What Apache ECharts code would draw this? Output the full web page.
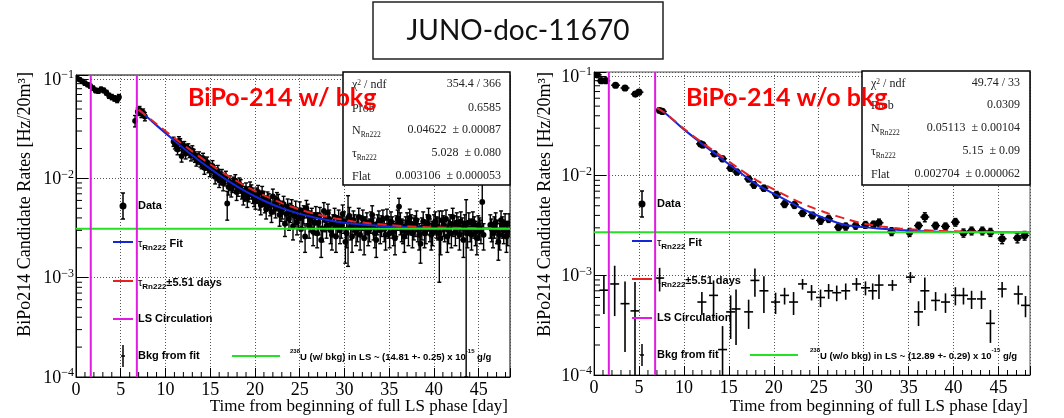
<!DOCTYPE html>
<html>
<head>
<meta charset="utf-8">
<script src="https://cdn.jsdelivr.net/npm/echarts@6.0.0/dist/echarts.min.js"></script>
<style>
  html, body { margin: 0; padding: 0; background: #fff; }
  #chart { width: 1064px; height: 418px; }
</style>
</head>
<body>
<div id="chart"></div>
<script>
// values: [day, rate, error]
const leftData = [
  [0.1, 0.103, 0.004], [0.4, 0.099, 0.004], [0.7, 0.095, 0.004], [1.0, 0.091, 0.004],
  [1.3, 0.088, 0.004], [1.6, 0.085, 0.004], [1.9, 0.081, 0.004], [2.2, 0.077, 0.004],
  [2.5, 0.076, 0.004], [2.8, 0.079, 0.004], [3.1, 0.077, 0.004], [3.4, 0.073, 0.004],
  [3.7, 0.068, 0.004], [4.0, 0.066, 0.004], [4.3, 0.064, 0.004], [4.6, 0.062, 0.004],
  [4.8, 0.066, 0.004], [6.6, 0.038, 0.005], [6.9, 0.047, 0.004], [7.1, 0.049, 0.004],
  [7.3, 0.045, 0.004], [7.5, 0.046, 0.004], [7.7, 0.042, 0.004],
  [10.9, 0.0235, 0.0025], [11.2, 0.0215, 0.0024], [11.5, 0.0238, 0.0025], [11.8, 0.0168, 0.0022],
  [12.1, 0.0212, 0.0023], [12.4, 0.0196, 0.0022], [12.7, 0.0183, 0.0021], [13.0, 0.0192, 0.0021],
  [13.3, 0.0165, 0.002], [13.6, 0.0158, 0.0019], [13.9, 0.0149, 0.0019], [14.2, 0.0160, 0.0019],
  [14.5, 0.0139, 0.0018], [14.8, 0.0131, 0.0017], [15.1, 0.0125, 0.0017], [15.4, 0.0118, 0.0016],
  [15.7, 0.0112, 0.0016], [16.0, 0.0096, 0.0015], [16.3, 0.0108, 0.0015], [16.6, 0.0098, 0.0014],
  [16.9, 0.0056, 0.0018], [17.2, 0.0092, 0.0014], [17.5, 0.0086, 0.0014], [17.8, 0.0095, 0.0014],
  [18.1, 0.0079, 0.0013], [18.4, 0.0084, 0.0013], [18.7, 0.0066, 0.0012], [19.0, 0.0077, 0.0013],
  [19.3, 0.0070, 0.0012], [19.6, 0.0074, 0.0012], [19.9, 0.0064, 0.0012], [20.2, 0.0068, 0.0012],
  [20.5, 0.0059, 0.0011], [20.8, 0.0071, 0.0012], [21.1, 0.0056, 0.0011], [21.4, 0.0062, 0.0011],
  [21.7, 0.0053, 0.0011], [22.0, 0.0066, 0.0012], [22.3, 0.0050, 0.0010], [22.6, 0.0058, 0.0011],
  [22.9, 0.0047, 0.0010], [23.2, 0.0055, 0.0011], [23.5, 0.0044, 0.0010], [23.8, 0.0039, 0.0009],
  [24.1, 0.0051, 0.0010], [24.4, 0.0042, 0.0009], [24.7, 0.0036, 0.0009], [25.0, 0.0048, 0.0010],
  [25.3, 0.0041, 0.0009], [25.6, 0.0026, 0.0008], [25.9, 0.0045, 0.0010], [26.2, 0.0038, 0.0009],
  [26.5, 0.0029, 0.0008], [26.8, 0.0043, 0.0009], [27.1, 0.0036, 0.0009], [27.4, 0.0024, 0.0008],
  [27.7, 0.0047, 0.0010], [28.0, 0.0033, 0.0008], [28.3, 0.0039, 0.0009], [28.6, 0.0027, 0.0008],
  [28.9, 0.0041, 0.0009], [29.2, 0.0034, 0.0008], [29.5, 0.0030, 0.0008], [29.8, 0.0044, 0.0010],
  [30.1, 0.0023, 0.0009], [30.4, 0.0040, 0.0027], [30.7, 0.0032, 0.0008], [31.0, 0.0038, 0.0009],
  [31.3, 0.0029, 0.0008], [31.6, 0.0041, 0.0009], [31.9, 0.0034, 0.0008], [32.2, 0.0025, 0.0008],
  [32.5, 0.0036, 0.0009], [32.8, 0.0031, 0.0008], [33.1, 0.0043, 0.0010], [33.4, 0.0028, 0.0008],
  [33.7, 0.0035, 0.0008], [34.0, 0.0030, 0.0008], [34.3, 0.0039, 0.0009], [34.6, 0.0027, 0.0008],
  [34.9, 0.0033, 0.0008], [35.2, 0.0037, 0.0009], [35.5, 0.0029, 0.0008], [35.8, 0.0034, 0.0008],
  [36.1, 0.0052, 0.0011], [36.4, 0.0031, 0.0008], [36.7, 0.0026, 0.0008], [37.0, 0.0036, 0.0009],
  [37.3, 0.0040, 0.0009], [37.6, 0.0028, 0.0008], [37.9, 0.0034, 0.0008], [38.2, 0.0031, 0.0008],
  [38.5, 0.0022, 0.0008], [38.8, 0.0037, 0.0009], [39.1, 0.0030, 0.0008], [39.4, 0.0041, 0.0009],
  [39.7, 0.0027, 0.0008], [40.0, 0.0035, 0.0008], [40.3, 0.0033, 0.0008], [40.6, 0.0028, 0.0019],
  [40.9, 0.0038, 0.0009], [41.2, 0.0031, 0.0008], [41.5, 0.0026, 0.0008], [41.8, 0.0035, 0.0008],
  [42.1, 0.0041, 0.0009], [42.4, 0.0029, 0.0008], [42.7, 0.0033, 0.0008], [43.0, 0.0037, 0.0009],
  [43.3, 0.0024, 0.0008], [43.6, 0.0031, 0.0030], [43.9, 0.0036, 0.0009], [44.2, 0.0027, 0.0008],
  [44.5, 0.0033, 0.0008], [44.8, 0.0025, 0.0008], [45.1, 0.0032, 0.0008], [45.4, 0.0058, 0.0030],
  [46.3, 0.0034, 0.0009], [46.6, 0.0028, 0.0008], [46.9, 0.0036, 0.0009], [47.2, 0.0023, 0.0008],
  [47.5, 0.0038, 0.0009], [47.8, 0.0030, 0.0008], [48.1, 0.0026, 0.0008], [48.4, 0.0035, 0.0009]
];
// the bins in between, same plot
const leftData2 = [
  [11.05, 0.0222, 0.0024], [11.35, 0.0196, 0.0023], [11.65, 0.0227, 0.0024], [11.95, 0.0204, 0.0023],
  [12.25, 0.0178, 0.0021], [12.55, 0.0201, 0.0022], [12.85, 0.0171, 0.0021], [13.15, 0.0176, 0.002],
  [13.45, 0.0152, 0.0019], [13.75, 0.0166, 0.0019], [14.05, 0.0143, 0.0018], [14.35, 0.0128, 0.0018],
  [14.65, 0.0146, 0.0018], [14.95, 0.0121, 0.0017], [15.25, 0.0134, 0.0017], [15.55, 0.0104, 0.0016],
  [15.85, 0.0119, 0.0016], [16.15, 0.0101, 0.0015], [16.45, 0.0090, 0.0015], [16.75, 0.0103, 0.0015],
  [17.05, 0.0082, 0.0014], [17.35, 0.0079, 0.0014], [17.65, 0.0089, 0.0014], [17.95, 0.0073, 0.0013],
  [18.25, 0.0088, 0.0013], [18.55, 0.0075, 0.0013], [18.85, 0.0071, 0.0012], [19.15, 0.0063, 0.0012],
  [19.45, 0.0079, 0.0013], [19.75, 0.0068, 0.0012], [20.05, 0.0060, 0.0011], [20.35, 0.0073, 0.0012],
  [20.65, 0.0054, 0.0011], [20.95, 0.0063, 0.0011], [21.25, 0.0049, 0.0010], [21.55, 0.0059, 0.0011],
  [21.85, 0.0046, 0.0010], [22.15, 0.0055, 0.0011], [22.45, 0.0061, 0.0011], [22.75, 0.0043, 0.0010],
  [23.05, 0.0049, 0.0010], [23.35, 0.0035, 0.0009], [23.65, 0.0052, 0.0010], [23.95, 0.0046, 0.0010],
  [24.25, 0.0033, 0.0009], [24.55, 0.0049, 0.0010], [24.85, 0.0040, 0.0009], [25.15, 0.0031, 0.0008],
  [25.45, 0.0044, 0.0009], [25.75, 0.0050, 0.0010], [26.05, 0.0033, 0.0008], [26.35, 0.0041, 0.0009],
  [26.65, 0.0036, 0.0009], [26.95, 0.0028, 0.0008], [27.25, 0.0042, 0.0009], [27.55, 0.0031, 0.0008],
  [27.85, 0.0038, 0.0009], [28.15, 0.0045, 0.0010], [28.45, 0.0030, 0.0008], [28.75, 0.0035, 0.0008],
  [29.05, 0.0026, 0.0008], [29.35, 0.0039, 0.0009], [29.65, 0.0033, 0.0008], [29.95, 0.0037, 0.0009],
  [30.25, 0.0028, 0.0008], [30.55, 0.0042, 0.0009], [30.85, 0.0026, 0.0008], [31.15, 0.0035, 0.0008],
  [31.45, 0.0031, 0.0008], [31.75, 0.0027, 0.0008], [32.05, 0.0039, 0.0009], [32.35, 0.0033, 0.0008],
  [32.65, 0.0029, 0.0008], [32.95, 0.0037, 0.0009], [33.25, 0.0032, 0.0008], [33.55, 0.0024, 0.0008],
  [33.85, 0.0038, 0.0009], [34.15, 0.0034, 0.0008], [34.45, 0.0031, 0.0008], [34.75, 0.0040, 0.0009],
  [35.05, 0.0028, 0.0008], [35.35, 0.0033, 0.0008], [35.65, 0.0025, 0.0008], [35.95, 0.0039, 0.0009],
  [36.25, 0.0036, 0.0009], [36.55, 0.0030, 0.0008], [36.85, 0.0033, 0.0008], [37.15, 0.0029, 0.0008],
  [37.45, 0.0035, 0.0008], [37.75, 0.0032, 0.0008], [38.05, 0.0038, 0.0009], [38.35, 0.0027, 0.0008],
  [38.65, 0.0032, 0.0008], [38.95, 0.0028, 0.0008], [39.25, 0.0035, 0.0008], [39.55, 0.0031, 0.0008],
  [39.85, 0.0029, 0.0008], [40.15, 0.0037, 0.0009], [40.45, 0.0032, 0.0008], [40.75, 0.0025, 0.0008],
  [41.05, 0.0034, 0.0008], [41.35, 0.0039, 0.0009], [41.65, 0.0030, 0.0008], [41.95, 0.0028, 0.0008],
  [42.25, 0.0034, 0.0008], [42.55, 0.0036, 0.0009], [42.85, 0.0027, 0.0008], [43.15, 0.0032, 0.0008],
  [43.45, 0.0035, 0.0008], [43.75, 0.0028, 0.0008], [44.05, 0.0031, 0.0008], [44.35, 0.0037, 0.0009],
  [44.65, 0.0029, 0.0008], [44.95, 0.0034, 0.0008], [45.25, 0.0030, 0.0008], [45.55, 0.0027, 0.0008],
  [46.45, 0.0031, 0.0008], [46.75, 0.0033, 0.0008], [47.05, 0.0030, 0.0008], [47.35, 0.0027, 0.0008],
  [47.65, 0.0033, 0.0008], [47.95, 0.0035, 0.0009], [48.25, 0.0029, 0.0008]
];

const rightData = [
  [0.35, 0.103, 0.003], [0.8, 0.090, 0.003], [1.3, 0.090, 0.003], [2.4, 0.081, 0.003],
  [3.45, 0.076, 0.003], [4.6, 0.066, 0.003], [5.0, 0.069, 0.003],
  [7.3, 0.0452, 0.002], [7.6, 0.0442, 0.002], [11.85, 0.0209, 0.0012], [12.1, 0.0204, 0.0012],
  [13.4, 0.0166, 0.001], [14.3, 0.0148, 0.0009], [15.2, 0.0119, 0.0008], [15.9, 0.0109, 0.0007],
  [17.2, 0.0093, 0.0006], [17.8, 0.0081, 0.0006], [18.9, 0.0075, 0.0005], [20.3, 0.00645, 0.0005],
  [21.2, 0.0052, 0.0004], [22.3, 0.0051, 0.0004], [23.2, 0.0042, 0.0003], [24.3, 0.0040, 0.0003],
  [25.2, 0.00356, 0.0003], [26.1, 0.0037, 0.0003], [27.2, 0.00305, 0.00025], [28.0, 0.0031, 0.00025],
  [29.1, 0.00316, 0.00025], [30.2, 0.00322, 0.00025], [31.1, 0.00325, 0.00025], [31.7, 0.00337, 0.0003],
  [33.1, 0.00276, 0.00025], [35.1, 0.00271, 0.00025], [36.1, 0.00316, 0.00025], [36.8, 0.00385, 0.0004],
  [38.0, 0.00316, 0.00025], [39.1, 0.0031, 0.00025], [40.2, 0.00342, 0.0003], [41.1, 0.00267, 0.00025],
  [42.0, 0.0028, 0.00025], [43.2, 0.0028, 0.00025], [44.1, 0.00271, 0.00025], [45.4, 0.00233, 0.00025],
  [47.1, 0.00237, 0.00025], [47.9, 0.00251, 0.00025]
];

const rightBkg = [
  [1.1, 0.00071, 0.0003], [2.3, 0.00082, 0.00043], [3.45, 0.00052, 0.00035], [4.56, 0.00044, 0.00042],
  [7.3, 0.00094, 0.00025], [12.0, 0.00054, 0.00014], [13.3, 0.00063, 0.00026], [14.3, 0.00018, 0.00013],
  [15.2, 0.00043, 0.0002], [15.8, 0.00046, 0.00026], [17.2, 0.00043, 0.00014], [17.9, 0.00089, 0.00028],
  [18.9, 0.0007, 0.00028], [20.2, 0.00054, 0.00013], [21.2, 0.00063, 0.00012], [22.2, 0.00054, 0.00014],
  [23.2, 0.00082, 0.0001], [24.2, 0.00068, 0.00012], [25.2, 0.0006, 0.00012], [26.1, 0.0007, 0.00012],
  [27.0, 0.00067, 0.00012], [28.0, 0.0007, 0.00013], [29.2, 0.00082, 0.00012], [30.2, 0.00075, 0.00012],
  [31.0, 0.0007, 0.00013], [31.7, 0.0008, 0.00022], [33.2, 0.0008, 0.0001], [35.2, 0.00096, 0.00012],
  [36.1, 0.00043, 0.00012], [36.8, 0.0007, 0.00025], [38.0, 0.00056, 0.00012], [39.1, 0.00054, 0.00012],
  [40.2, 0.00063, 0.00013], [41.1, 0.00063, 0.00012], [42.0, 0.00058, 0.00012], [43.1, 0.00058, 0.00012],
  [44.1, 0.00033, 0.00012], [45.4, 0.00073, 0.00013], [47.2, 0.00065, 0.00014], [48.0, 0.0005, 0.00012]
];

// fit curves, read at these days
const leftFitT = [7, 9, 11, 13, 15, 17, 19, 21, 23, 25, 27, 29, 31, 33, 35, 37, 39, 41, 43, 45, 47, 48.5];
const leftBlue = [0.0493, 0.0342, 0.0240, 0.0171, 0.0125, 0.00943, 0.00735, 0.00596, 0.00502, 0.00439, 0.00397,
  0.00369, 0.00350, 0.00337, 0.00328, 0.00322, 0.00319, 0.00316, 0.00314, 0.00313, 0.00312, 0.00312];
const leftRed = [0.0493, 0.0353, 0.0255, 0.0187, 0.0139, 0.0106, 0.00834, 0.00674, 0.00563, 0.00486, 0.00433,
  0.00395, 0.00369, 0.00351, 0.00339, 0.0033, 0.00324, 0.0032, 0.00317, 0.00315, 0.00314, 0.00313];

const rightFitT = [7, 8, 10, 12, 14, 16, 18, 20, 22, 24, 26, 28, 30, 32, 34, 36, 38, 40, 44, 48.5];
const rightBlue = [0.048, 0.042, 0.0292, 0.0210, 0.0153, 0.0112, 0.0083, 0.0066, 0.0053, 0.0043, 0.00365,
  0.0032, 0.00305, 0.00293, 0.00285, 0.00279, 0.00275, 0.00273, 0.00271, 0.0027];
const rightRed = [0.048, 0.042, 0.0296, 0.0216, 0.0161, 0.0120, 0.0091, 0.0073, 0.0059, 0.0049, 0.0042,
  0.0037, 0.0033, 0.0031, 0.00296, 0.00287, 0.0028, 0.00277, 0.00273, 0.00271];

const leftFlat = 0.003106;
const rightFlat = 0.002704;
const lsCirculation = [1.65, 6.8];

const leftStats = [
  ['χ{sup|2} / ndf', '354.4 / 366'],
  ['Prob', '0.6585'],
  ['N{sub|Rn222}', '0.04622  ± 0.00087'],
  ['τ{sub|Rn222}', '5.028  ± 0.080'],
  ['Flat', '0.003106  ± 0.000053']
];
const rightStats = [
  ['χ{sup|2} / ndf', '49.74 / 33'],
  ['Prob', '0.0309'],
  ['N{sub|Rn222}', '0.05113  ± 0.00104'],
  ['τ{sub|Rn222}', '5.15  ± 0.09'],
  ['Flat', '0.002704  ± 0.000062']
];

const X_MAX = 48.5, Y_MIN = 1e-4, Y_MAX = 0.11;
const SERIF = '"Liberation Serif", "DejaVu Serif", serif';
const SANS = '"Liberation Sans", Arial, sans-serif';
const BLUE = '#1426d8', RED = '#e32222', MAGENTA = '#e21be2', GREEN = '#26e026';

const yMinor = [];
[1e-4, 1e-3, 1e-2].forEach(d => { for (let k = 2; k <= 9; k++) yMinor.push(k * d); });
const xMinor = [];
for (let k = 1; k < X_MAX; k++) if (k % 5) xMinor.push(k);

const chart = echarts.init(document.getElementById('chart'));

function pointsRender(opt) {
  return function (params, api) {
    const t = api.value(0), v = api.value(1), e = api.value(2);
    const c = api.coord([t, v]);
    const lo = api.coord([t, Math.max(v - e, 1e-7)]);
    const hi = api.coord([t, v + e]);
    const st = { stroke: '#000', lineWidth: opt.lw };
    const kids = [{ type: 'line', shape: { x1: c[0], y1: lo[1], x2: c[0], y2: hi[1] }, style: st }];
    if (opt.cap) {
      kids.push({ type: 'line', shape: { x1: c[0] - opt.cap, y1: hi[1], x2: c[0] + opt.cap, y2: hi[1] }, style: st });
      kids.push({ type: 'line', shape: { x1: c[0] - opt.cap, y1: lo[1], x2: c[0] + opt.cap, y2: lo[1] }, style: st });
    }
    if (opt.xerr) {
      const l = api.coord([t - opt.xerr, v]), r = api.coord([t + opt.xerr, v]);
      kids.push({ type: 'line', shape: { x1: l[0], y1: c[1], x2: r[0], y2: c[1] }, style: st });
    }
    if (opt.r) kids.push({ type: 'circle', shape: { cx: c[0], cy: c[1], r: opt.r }, style: { fill: '#000' } });
    return { type: 'group', children: kids };
  };
}

function minorYRender(params, api) {
  const p = api.coord([0, api.value(1)]);
  return { type: 'line', shape: { x1: p[0], y1: p[1], x2: p[0] + 6, y2: p[1] }, style: { stroke: '#000', lineWidth: 1 } };
}
function minorXRender(params, api) {
  const p = api.coord([api.value(0), Y_MIN]);
  return { type: 'line', shape: { x1: p[0], y1: p[1], x2: p[0], y2: p[1] - 5 }, style: { stroke: '#000', lineWidth: 1 } };
}

function zip(a, b) { return a.map((x, i) => [x, b[i]]); }

function plotSeries(i, data, fitT, blue, red, flat, bkg, r, xerr) {
  const ax = { xAxisIndex: i, yAxisIndex: i, animation: false, silent: true };
  const s = [
    Object.assign({ type: 'custom', data: data, renderItem: pointsRender({ lw: 1.4, cap: 2, r: r, xerr: xerr }), clip: true, encode: { x: 0, y: 1 }, z: 2 }, ax),
    Object.assign({ type: 'line', data: zip(fitT, blue), showSymbol: false, smooth: 0.3, lineStyle: { color: BLUE, width: 2 }, z: 4 }, ax),
    Object.assign({ type: 'line', data: zip(fitT, red), showSymbol: false, smooth: 0.3, lineStyle: { color: RED, width: 2, type: [9, 6] }, z: 4 }, ax),
    Object.assign({ type: 'line', data: [[0, flat], [X_MAX, flat]], showSymbol: false, lineStyle: { color: GREEN, width: 2 }, z: 5 }, ax),
    Object.assign({ type: 'custom', data: yMinor.map(v => [0, v]), renderItem: minorYRender, encode: { x: 0, y: 1 }, z: 6 }, ax),
    Object.assign({ type: 'custom', data: xMinor.map(v => [v, Y_MIN]), renderItem: minorXRender, encode: { x: 0, y: 1 }, z: 6 }, ax)
  ];
  lsCirculation.forEach(t => s.push(Object.assign({ type: 'line', data: [[t, Y_MIN], [t, Y_MAX]], showSymbol: false, lineStyle: { color: MAGENTA, width: 2 }, z: 6 }, ax)));
  if (bkg) s.push(Object.assign({ type: 'custom', data: bkg, renderItem: pointsRender({ lw: 1.6, xerr: 0.5 }), clip: true, encode: { x: 0, y: 1 }, z: 3 }, ax));
  return s;
}

function xAxisOf(i) {
  return {
    gridIndex: i, type: 'value', min: 0, max: X_MAX, interval: 5,
    axisLine: { lineStyle: { color: '#000', width: 1 } },
    axisTick: { inside: true, length: 9, lineStyle: { color: '#000' } },
    axisLabel: {
      margin: 4, color: '#000', fontFamily: SERIF, fontSize: 18,
      formatter: v => (Math.abs(v % 5) < 1e-9 && v <= 45) ? String(v) : ''
    },
    splitLine: { show: true, lineStyle: { color: '#555', type: [1, 2], width: 1 } }
  };
}
function yAxisOf(i) {
  return {
    gridIndex: i, type: 'log', logBase: 10, min: Y_MIN, max: Y_MAX,
    axisLine: { show: true, lineStyle: { color: '#000', width: 1 } },
    axisTick: { show: true, inside: true, length: 12, lineStyle: { color: '#000' } },
    axisLabel: {
      margin: 2, color: '#000',
      formatter: v => {
        const l = Math.log10(v), e = Math.round(l);
        if (Math.abs(l - e) > 1e-6) return '';
        return '{b|10}{s|−' + (-e) + '}';
      },
      rich: {
        b: { fontFamily: SERIF, fontSize: 18, color: '#000', lineHeight: 20, verticalAlign: 'bottom' },
        s: { fontFamily: SERIF, fontSize: 12, color: '#000', lineHeight: 12, verticalAlign: 'top' }
      }
    },
    splitLine: { show: true, lineStyle: { color: '#555', type: [1, 2], width: 1 } }
  };
}

// ---------- decorations (legends, stat boxes, titles) ----------
const g = [];
function txt(x, y, text, font, extra) {
  g.push(Object.assign({ type: 'text', x: x, y: y, z: 100, silent: true,
    style: Object.assign({ text: text, font: font, fill: '#000', align: 'left', verticalAlign: 'middle' }, extra || {}) }));
}
function seg(x1, y1, x2, y2, color, w, dash) {
  g.push({ type: 'line', z: 100, silent: true, shape: { x1, y1, x2, y2 }, style: { stroke: color, lineWidth: w, lineDash: dash || null } });
}

const legRich = {
  n: { fontFamily: SANS, fontWeight: 'bold', fontSize: 11, color: '#000', lineHeight: 14, verticalAlign: 'top' },
  t: { fontFamily: SANS, fontSize: 11, color: '#000', lineHeight: 14, verticalAlign: 'top' },
  s: { fontFamily: SANS, fontWeight: 'bold', fontSize: 8, color: '#000', lineHeight: 9, verticalAlign: 'bottom' }
};
const smallRich = {
  n: { fontFamily: SANS, fontWeight: 'bold', fontSize: 9.5, color: '#000', lineHeight: 14, verticalAlign: 'bottom' },
  u: { fontFamily: SANS, fontWeight: 'bold', fontSize: 6, color: '#000', lineHeight: 8, verticalAlign: 'top' }
};

function legend(ix, tx, rows, gx1, gx2, gtx, note) {
  // Data
  seg(ix, rows[0] - 13, ix, rows[0] + 13, '#000', 1.5);
  seg(ix - 2, rows[0] - 13, ix + 2, rows[0] - 13, '#000', 1.5);
  seg(ix - 2, rows[0] + 13, ix + 2, rows[0] + 13, '#000', 1.5);
  g.push({ type: 'circle', z: 100, silent: true, shape: { cx: ix, cy: rows[0], r: 3.5 }, style: { fill: '#000' } });
  txt(tx, rows[0], 'Data', 'bold 11px ' + SANS);
  seg(ix - 10, rows[1], ix + 10, rows[1], BLUE, 2);
  txt(tx, rows[1] + 3, '{t|τ}{s|Rn222}{n| Fit}', '11px ' + SANS, { rich: legRich });
  seg(ix - 10, rows[2], ix + 10, rows[2], RED, 2);
  txt(tx, rows[2] + 3, '{t|τ}{s|Rn222}{n|±5.51 days}', '11px ' + SANS, { rich: legRich });
  seg(ix - 10, rows[3], ix + 10, rows[3], MAGENTA, 2);
  txt(tx, rows[3], 'LS Circulation', 'bold 11px ' + SANS);
  seg(ix, rows[4] - 11, ix, rows[4] + 11, '#000', 1.5);
  seg(ix - 2, rows[4], ix + 2, rows[4], '#000', 1.5);
  txt(tx, rows[4], 'Bkg from fit', 'bold 11px ' + SANS);
  seg(gx1, rows[4], gx2, rows[4], GREEN, 2);
  txt(gtx, rows[4] - 1, note, '9.5px ' + SANS, { rich: smallRich });
}
legend(123, 138, [206, 242, 281, 319, 356], 232, 280, 290,
  '{u|238}{n|U (w/ bkg) in LS ~ (14.81 +- 0.25) x 10}{u|-15}{n| g/g}');
legend(642, 657, [204, 241, 279, 318, 355], 750, 798, 810,
  '{u|238}{n|U (w/o bkg) in LS ~ (12.89 +- 0.29) x 10}{u|-15}{n| g/g}');

const statRich = {
  n: { fontFamily: SERIF, fontSize: 12, color: '#222', lineHeight: 14, verticalAlign: 'top' },
  sup: { fontFamily: SERIF, fontSize: 7.5, color: '#222', lineHeight: 7, verticalAlign: 'top' },
  sub: { fontFamily: SERIF, fontSize: 7.5, color: '#222', lineHeight: 8, verticalAlign: 'bottom' }
};
function statBox(x, y, w, h, rows, lx, rx, stats) {
  g.push({ type: 'rect', z: 90, silent: true, shape: { x, y, width: w, height: h }, style: { fill: '#fff', stroke: '#000', lineWidth: 1.5 } });
  stats.forEach((s, k) => {
    const label = s[0].replace(/^([^{]+)/, '{n|$1}').replace(/(\})([^{]+)$/, '$1{n|$2}');
    txt(lx, rows[k] + 2, label, '12px ' + SERIF, { rich: statRich, fill: '#222' });
    txt(rx, rows[k], s[1], '12px ' + SERIF, { align: 'right', fill: '#222' });
  });
}
statBox(343, 72, 167, 113, [84, 108, 130, 153, 176], 352, 501, leftStats);
statBox(862, 71, 168, 114, [83, 105, 128, 151, 174], 871, 1020, rightStats);

// red plot labels
txt(188, 98, 'BiPo-214 w/ bkg', 'bold 25px Lato, ' + SANS, { fill: '#ff0000' });
txt(686, 98, 'BiPo-214 w/o bkg', 'bold 25px Lato, ' + SANS, { fill: '#ff0000' });

// document tag
g.push({ type: 'rect', z: 90, silent: true, shape: { x: 373, y: 2, width: 290, height: 57 }, style: { fill: '#fff', stroke: '#222', lineWidth: 1.5 } });
txt(518, 31, 'JUNO-doc-11670', '28px Lato, ' + SANS, { align: 'center', fill: '#111' });

// axis titles
[[25, 72], [545, 72]].forEach(p => {
  g.push({ type: 'text', x: p[0], y: p[1], rotation: Math.PI / 2, z: 100, silent: true,
    style: { text: 'BiPo214 Candidate Rates [Hz/20m³]', font: '18px ' + SERIF, fill: '#000', align: 'right', verticalAlign: 'middle' } });
});
txt(508, 407, 'Time from beginning of full LS phase [day]', '17px ' + SERIF, { align: 'right' });
txt(1028, 407, 'Time from beginning of full LS phase [day]', '17px ' + SERIF, { align: 'right' });

chart.setOption({
  animation: false,
  backgroundColor: '#fff',
  grid: [
    { left: 76, top: 75, width: 434, height: 302, show: true, borderColor: '#000', borderWidth: 1, backgroundColor: 'transparent' },
    { left: 594, top: 72, width: 436, height: 303, show: true, borderColor: '#555', borderWidth: 1, backgroundColor: 'transparent' }
  ],
  xAxis: [xAxisOf(0), xAxisOf(1)],
  yAxis: [yAxisOf(0), yAxisOf(1)],
  series: [].concat(
    plotSeries(0, leftData, leftFitT, leftBlue, leftRed, leftFlat, null, 2.9, 0),
    [{ type: 'custom', xAxisIndex: 0, yAxisIndex: 0, data: leftData2, renderItem: pointsRender({ lw: 1.4, cap: 2, r: 2.9 }),
       clip: true, encode: { x: 0, y: 1 }, z: 2, silent: true, animation: false }],
    plotSeries(1, rightData, rightFitT, rightBlue, rightRed, rightFlat, rightBkg, 3.6, 0.5)
  ),
  graphic: g
});
</script>
</body>
</html>
